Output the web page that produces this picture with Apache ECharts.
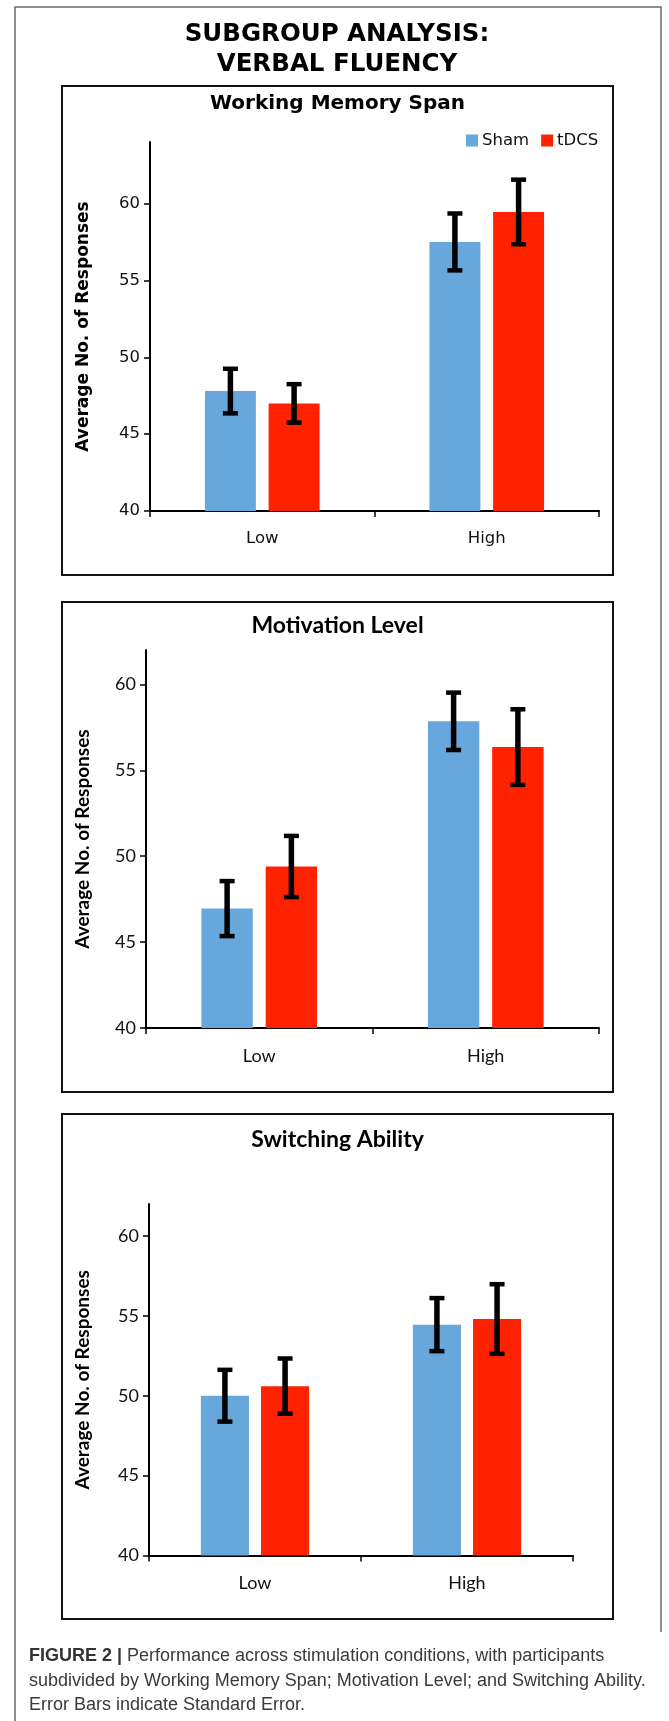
<!DOCTYPE html>
<html>
<head>
<meta charset="utf-8">
<script src="https://cdn.jsdelivr.net/npm/echarts@6/dist/echarts.min.js"></script>
<style>
  html, body { margin: 0; padding: 0; background: #ffffff; }
  #chart { width: 669px; height: 1721px; }
</style>
</head>
<body>
<div id="chart"></div>
<script>
// Categories and tick values shared by all three panels
const categories = ['Low', 'High'];
const yTicks = [40, 45, 50, 55, 60];
const seriesNames = ['Sham', 'tDCS'];
const panelTitles = ['Working Memory Span', 'Motivation Level', 'Switching Ability'];

// Working Memory Span: means and standard errors (Low, High)
const wmSham = [47.8, 57.5];
const wmShamErr = [1.45, 1.85];
const wmTdcs = [47.0, 59.45];
const wmTdcsErr = [1.25, 2.1];

// Motivation Level
const motSham = [46.95, 57.85];
const motShamErr = [1.6, 1.67];
const motTdcs = [49.4, 56.35];
const motTdcsErr = [1.78, 2.2];

// Switching Ability
const swSham = [50.0, 54.45];
const swShamErr = [1.62, 1.66];
const swTdcs = [50.6, 54.8];
const swTdcsErr = [1.73, 2.18];

const captionBold = 'FIGURE 2 |';
const captionLines = [
  ' Performance across stimulation conditions, with participants',
  'subdivided by Working Memory Span; Motivation Level; and Switching Ability.',
  'Error Bars indicate Standard Error.'
];

const SHAM_COLOR = '#67a7db';
const TDCS_COLOR = '#ff2200';
const BAR_WIDTH_FRAC = 0.227;
const BAR_GAP_FRAC = 0.25;

const panels = [
  { sham: wmSham, shamErr: wmShamErr, tdcs: wmTdcs, tdcsErr: wmTdcsErr, yMax: 64,
    grid: { left: 150, top: 142, width: 449, height: 369 },
    font: 'DejaVu Sans', labelSize: 16.5, catSize: 16.5, nameSize: 17, nameGap: 58,
    box: [62, 86, 551, 489], titleY: 104, titleSize: 20 },
  { sham: motSham, shamErr: motShamErr, tdcs: motTdcs, tdcsErr: motTdcsErr, yMax: 62,
    grid: { left: 146, top: 650, width: 453, height: 378 },
    font: 'Lato', labelSize: 18, catSize: 18, nameSize: 19, nameGap: 54,
    box: [62, 602, 551, 490], titleY: 626, titleSize: 23 },
  { sham: swSham, shamErr: swShamErr, tdcs: swTdcs, tdcsErr: swTdcsErr, yMax: 62,
    grid: { left: 149, top: 1204, width: 424, height: 351.5 },
    font: 'Lato', labelSize: 18, catSize: 18, nameSize: 19, nameGap: 57,
    box: [62, 1114, 551, 505], titleY: 1140, titleSize: 23 }
];

const chart = echarts.init(document.getElementById('chart'), null, { renderer: 'canvas' });

const grids = [], xAxes = [], yAxes = [], series = [], graphics = [];

// Error bar drawn at the centre of the matching bar in its category
function errorBarRenderer(params, api) {
  const cat = api.value(0);
  const mean = api.value(1);
  const err = api.value(2);
  const side = api.value(3); // -1 Sham, +1 tDCS
  const catW = api.size([1, 0])[0];
  const bw = catW * BAR_WIDTH_FRAC;
  const offset = side * (bw + bw * BAR_GAP_FRAC) / 2;
  const top = api.coord([cat, mean + err]);
  const bottom = api.coord([cat, mean - err]);
  const x = top[0] + offset;
  const capHalf = 7.5;
  const stem = { stroke: '#000', lineWidth: 5.5, fill: null };
  const cap = { stroke: '#000', lineWidth: 4.5, fill: null };
  return {
    type: 'group',
    children: [
      { type: 'line', shape: { x1: x, y1: top[1], x2: x, y2: bottom[1] }, style: stem },
      { type: 'line', shape: { x1: x - capHalf, y1: top[1], x2: x + capHalf, y2: top[1] }, style: cap },
      { type: 'line', shape: { x1: x - capHalf, y1: bottom[1], x2: x + capHalf, y2: bottom[1] }, style: cap }
    ]
  };
}

panels.forEach(function (p, i) {
  grids.push(Object.assign({ containLabel: false }, p.grid));
  xAxes.push({
    type: 'category', gridIndex: i, data: categories,
    axisLine: { lineStyle: { color: '#000', width: 2 } },
    axisTick: { show: true, length: 6, lineStyle: { color: '#000', width: 1.5 } },
    axisLabel: { color: '#111', fontFamily: p.font, fontSize: p.catSize, margin: 19 },
    splitLine: { show: false }
  });
  yAxes.push({
    type: 'value', gridIndex: i, min: 40, max: p.yMax, interval: 5,
    name: 'Average No. of Responses', nameLocation: 'middle', nameGap: p.nameGap,
    nameTextStyle: { color: '#000', fontFamily: p.font, fontWeight: 'bold', fontSize: p.nameSize },
    axisLine: { show: true, lineStyle: { color: '#000', width: 2 } },
    axisTick: { show: true, length: 6, customValues: yTicks, lineStyle: { color: '#000', width: 1.5 } },
    axisLabel: { color: '#111', fontFamily: p.font, fontSize: p.labelSize, margin: 10, customValues: yTicks },
    splitLine: { show: false }
  });
  series.push({
    name: seriesNames[0], type: 'bar', xAxisIndex: i, yAxisIndex: i,
    data: p.sham, barWidth: (BAR_WIDTH_FRAC * 100) + '%', barGap: (BAR_GAP_FRAC * 100) + '%',
    itemStyle: { color: SHAM_COLOR }, silent: true
  });
  series.push({
    name: seriesNames[1], type: 'bar', xAxisIndex: i, yAxisIndex: i,
    data: p.tdcs, barWidth: (BAR_WIDTH_FRAC * 100) + '%', barGap: (BAR_GAP_FRAC * 100) + '%',
    itemStyle: { color: TDCS_COLOR }, silent: true
  });
  const errData = [];
  categories.forEach(function (c, k) {
    errData.push([k, p.sham[k], p.shamErr[k], -1]);
    errData.push([k, p.tdcs[k], p.tdcsErr[k], 1]);
  });
  series.push({
    type: 'custom', xAxisIndex: i, yAxisIndex: i, data: errData,
    renderItem: errorBarRenderer, silent: true, z: 5,
    encode: { x: 0, y: 1 }
  });
  // panel frame and heading
  graphics.push({
    type: 'rect', shape: { x: p.box[0], y: p.box[1], width: p.box[2], height: p.box[3] },
    style: { fill: null, stroke: '#111', lineWidth: 2 }, silent: true
  });
  graphics.push({
    type: 'text', x: 337.5, y: p.titleY,
    style: { text: panelTitles[i], fill: '#000', font: 'bold ' + p.titleSize + 'px "' + p.font + '"',
      textAlign: 'center', textVerticalAlign: 'middle' }, silent: true
  });
});

// outer figure frame
graphics.push({
  type: 'polyline', shape: { points: [[15, 1721], [15, 7], [661, 7], [661, 1632]] },
  style: { fill: null, stroke: '#6b6b6b', lineWidth: 1.5 }, silent: true
});
// figure heading
graphics.push({
  type: 'text', x: 337, y: 50,
  style: { text: 'SUBGROUP ANALYSIS:\nVERBAL FLUENCY', fill: '#000',
    font: 'bold 24.5px "DejaVu Sans"', lineHeight: 30,
    textAlign: 'center', textVerticalAlign: 'middle' }, silent: true
});
// caption
graphics.push({
  type: 'text', x: 29, y: 1681,
  style: {
    text: '{b|' + captionBold + '}{r|' + captionLines[0] + '}\n{r|' + captionLines[1] + '}\n{r|' + captionLines[2] + '}',
    textVerticalAlign: 'middle', textAlign: 'left',
    rich: {
      b: { fontFamily: 'Liberation Sans', fontWeight: 'bold', fontSize: 18, fill: '#333', lineHeight: 24.5 },
      r: { fontFamily: 'Liberation Sans', fontSize: 18, fill: '#3a3a3a', lineHeight: 24.5 }
    }
  }, silent: true
});

chart.setOption({
  backgroundColor: '#ffffff',
  animation: false,
  legend: {
    data: seriesNames, left: 461, top: 127, itemWidth: 12, itemHeight: 12, itemGap: 12,
    icon: 'rect', selectedMode: false,
    textStyle: { fontFamily: 'DejaVu Sans', fontSize: 16.5, color: '#111', padding: [0, 0, 0, -1] }
  },
  grid: grids,
  xAxis: xAxes,
  yAxis: yAxes,
  series: series,
  graphic: graphics
});
</script>
</body>
</html>
